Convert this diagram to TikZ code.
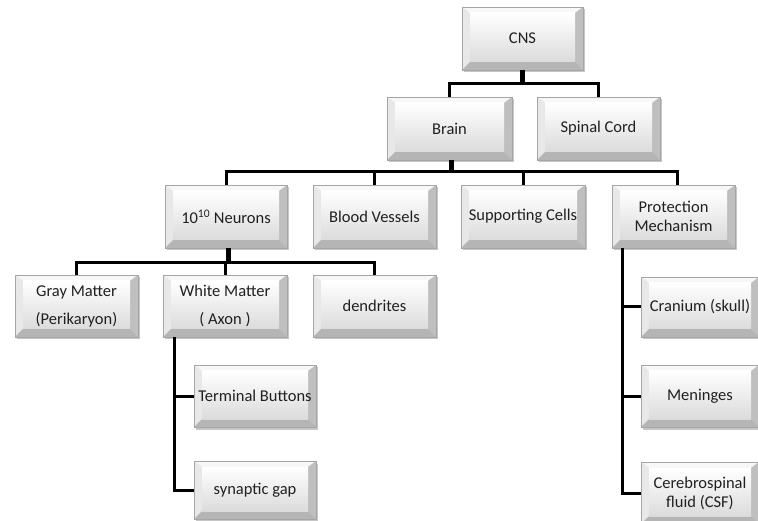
\documentclass[tikz,border=0pt]{standalone}
\usepackage{fontspec}
\setmainfont{Carlito}
\usetikzlibrary{shadows}

\definecolor{boxtext}{HTML}{202020}

\tikzset{
  box/.style={draw=gray!70, line width=0.6pt, fill=gray!25,
    minimum width=123pt, minimum height=63pt, inner sep=2pt,
    align=center, text=boxtext, font=\fontsize{16.5}{19}\selectfont,
    drop shadow={shadow xshift=1.5pt, shadow yshift=-2.5pt, opacity=0.45},
    path picture={
      \coordinate (pnw) at (path picture bounding box.north west);
      \coordinate (pne) at (path picture bounding box.north east);
      \coordinate (psw) at (path picture bounding box.south west);
      \coordinate (pse) at (path picture bounding box.south east);
      \coordinate (inw) at ([shift={(8pt,-6pt)}]pnw);
      \coordinate (ine) at ([shift={(-8pt,-6pt)}]pne);
      \coordinate (isw) at ([shift={(8pt,8pt)}]psw);
      \coordinate (ise) at ([shift={(-8pt,8pt)}]pse);
      \fill[gray!6] (pnw) -- (pne) -- (ine) -- (inw) -- cycle;
      \fill[gray!18] (pnw) -- (inw) -- (isw) -- (psw) -- cycle;
      \fill[gray!50] (pne) -- (pse) -- (ise) -- (ine) -- cycle;
      \fill[gray!58] (psw) -- (pse) -- (ise) -- (isw) -- cycle;
      \shade[top color=white, bottom color=gray!28] (inw) rectangle (ise);
    }},
  conn/.style={line width=3pt, black},
  stem/.style={line width=5pt, black},
}

\begin{document}
\begin{tikzpicture}[x=1pt, y=-1pt]
        \useasboundingbox (0,0) rectangle (758,521);
        % ==== LEVEL 0 / 1 ====
        \node[box, minimum width=121pt] (cns) at (522.5,38.5) {CNS};
        \node[box, minimum width=125pt] (brain) at (449.5,128.5) {Brain};
        \node[box] (spinal) at (598.5,128.5) {Spinal Cord};

        % ==== LEVEL 2 ====
        \node[box, minimum width=122pt] (neurons) at (226,216.5) {10\textsuperscript{10} Neurons};
        \node[box] (vessels) at (374.5,216.5) {Blood Vessels};
        \node[box, minimum width=124pt] (support) at (523,216.5) {Supporting Cells};
        \node[box] (protect) at (673.5,216.5) {Protection\\Mechanism};

        % ==== LEVEL 3 ====
        \node[box, minimum height=62pt] (gray) at (76.5,306) {Gray Matter\\[9pt](Perikaryon)};
        \node[box, minimum width=124pt, minimum height=62pt] (white) at (225,306) {White Matter\\[9pt]( Axon )};
        \node[box, minimum height=62pt] (dendr) at (374.5,306) {dendrites};

        % ==== AXON PARTS ====
        \node[box, minimum width=122pt, minimum height=62pt] (terminal) at (255,396) {Terminal Buttons};
        \node[box, minimum width=122pt, minimum height=58pt] (synaptic) at (255,490) {synaptic gap};

        % ==== PROTECTION PARTS ====
        \node[box, minimum width=118pt, minimum height=60pt] (cranium) at (700,307) {Cranium (skull)};
        \node[box, minimum width=118pt, minimum height=62pt] (meninges) at (700,396) {Meninges};
        \node[box, minimum width=118pt, minimum height=62pt] (csf) at (700,493) {Cerebrospinal\\fluid (CSF)};

        % ==== CONNECTORS ====
        \draw[stem] (cns.south) -- ++(0,13) coordinate (cj);
        \draw[conn] (cj) -| (brain.north);
        \draw[conn] (cj) -| (spinal.north);

        \draw[stem] ([xshift=2pt]brain.south) -- ++(0,11) coordinate (bj);
        \foreach \n in {neurons,vessels,support}
            \draw[conn] (bj) -| (\n.north);
        \draw[conn] (bj) -| ([xshift=4pt]protect.north);

        \draw[stem] ([xshift=2pt]neurons.south) -- ++(0,14) coordinate (nj);
        \foreach \n in {gray,white,dendr}
            \draw[conn] (nj) -| (\n.north);

        \coordinate (wj) at ([xshift=12pt]white.south west);
        \draw[conn] (wj) |- (terminal.west);
        \draw[conn] (wj) |- (synaptic.west);

        \coordinate (pj) at ([xshift=11pt]protect.south west);
        \foreach \n in {cranium,meninges,csf}
            \draw[conn] (pj) |- (\n.west);
     \end{tikzpicture}
\end{document}
